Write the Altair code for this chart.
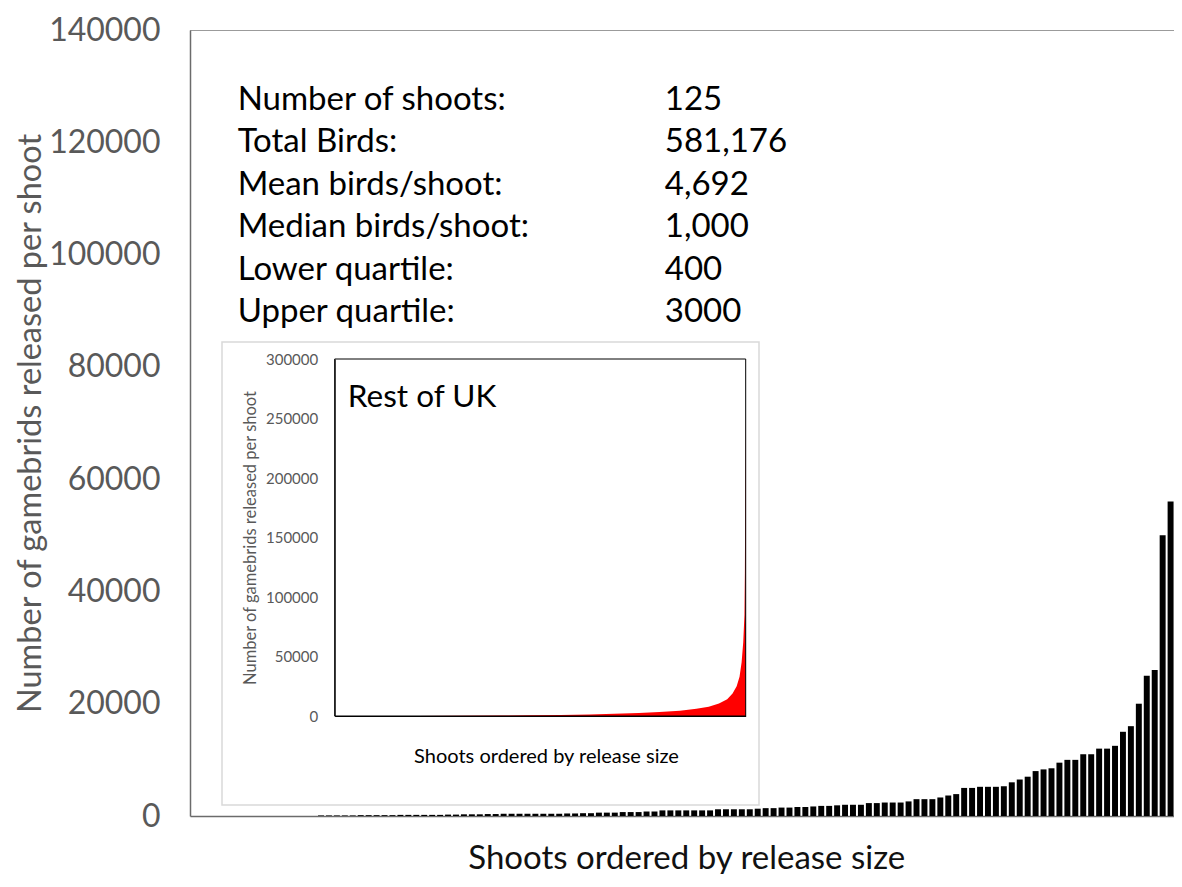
import altair as alt
import pandas as pd

# ---------------- data ----------------
# 125 shoots ordered by release size; the largest one lies just beyond the cropped right edge
release_size = [
    0, 0, 0, 0, 0, 0, 0, 0, 0, 0, 0, 0, 0, 0, 0, 0,
    100, 100, 100, 100, 100, 150, 150, 150, 150, 150, 200, 200, 200, 200, 200, 200, 250, 250,
    300, 300, 300, 350, 350, 400, 400, 400, 400, 400, 400, 400, 400, 450, 450,
    500, 500, 600, 600, 600, 700, 700, 700, 800, 800,
    1000, 1000, 1000, 1000, 1000, 1000, 1000,
    1200, 1200, 1200, 1200, 1200, 1300,
    1400, 1400, 1500, 1500,
    1600, 1600, 1700,
    1800, 1800, 1900, 2000, 2000, 2000,
    2300, 2300, 2400, 2400,
    2400, 2600, 3000, 3000, 3000, 3300, 3650, 3900, 5000, 5000,
    5200, 5200, 5200, 5300, 6000, 6500, 7000, 8000, 8300, 8500,
    9500, 10000, 10000, 11000, 11000, 12000, 12000, 12500, 15000, 16000,
    20000, 25000, 26000, 50000, 56000,
    124000,
]
assert len(release_size) == 125

y_ticks = [0, 20000, 40000, 60000, 80000, 100000, 120000, 140000]

stat_labels = ["Number of shoots:", "Total Birds:", "Mean birds/shoot:",
               "Median birds/shoot:", "Lower quartile:", "Upper quartile:"]
stat_values = ["125", "581,176", "4,692", "1,000", "400", "3000"]

# inset "Rest of UK": shoot rank (0-1000, unlabelled axis) and birds released
inset_rank = [0, 100, 200, 300, 400, 470, 550, 620, 680, 740, 790, 840, 880, 910,
              935, 955, 968, 978, 985, 990, 994, 997, 998, 999, 1000]
inset_value = [0, 50, 100, 200, 350, 600, 900, 1300, 1800, 2500, 3300, 4500, 6000, 7800,
               10500, 14000, 19000, 25000, 33000, 45000, 62000, 85000, 120000, 200000, 256000]
inset_ticks = [0, 50000, 100000, 150000, 200000, 250000, 300000]

# ---------------- tables ----------------
main_df = pd.DataFrame({"shoot": list(range(len(release_size))), "birds": release_size})
frame_df = pd.DataFrame({"a": [0], "b": [len(release_size)], "top": [max(y_ticks)]})
stats_df = pd.DataFrame({"label": stat_labels, "value": stat_values,
                         "row": list(range(len(stat_labels)))})
inset_df = pd.DataFrame({"rank": inset_rank, "birds": inset_value})
inset_frame_df = pd.DataFrame({"x0": [0], "x1": [1000], "y0": [0], "y1": [max(inset_ticks)]})
inset_title_df = pd.DataFrame({"x": [32], "y": [267000], "t": ["Rest of UK"]})

FONT = "Lato"
GREY = "#595959"
W, H = 984, 786           # plot area; the original (wider) chart is cropped by the window
SLOT = 7.94               # px per shoot
XMAX = W / SLOT
N = len(release_size)

XM = alt.Scale(domain=[0, XMAX], nice=False, zero=False)
YM = alt.Scale(domain=[0, max(y_ticks)], nice=False)

# ---------------- main chart ----------------
bars = alt.Chart(main_df).mark_rect(color="black", clip=True).transform_calculate(
    x0="datum.shoot + 0.125", x1="datum.shoot + 0.875", base="0"
).encode(
    x=alt.X("x0:Q", scale=XM, axis=alt.Axis(
        orient="bottom", labels=False, ticks=False, grid=False,
        domainColor="#6b6b6b", domainWidth=1.5,
        title="Shoots ordered by release size", titleFont=FONT, titleFontSize=33,
        titleFontWeight="normal", titleColor="#111111",
        titleX=N * SLOT / 2, titleY=42, titleAlign="center", titleBaseline="middle")),
    x2="x1:Q",
    y=alt.Y("birds:Q", scale=YM, axis=alt.Axis(
        values=y_ticks, format="d", labelFont=FONT, labelFontSize=32, labelColor=GREY,
        ticks=False, labelPadding=30, grid=False,
        domainColor="#6b6b6b", domainWidth=1.5,
        title="Number of gamebrids released per shoot", titleFont=FONT, titleFontSize=32.5,
        titleFontWeight="normal", titleColor=GREY, titleAngle=270,
        titleX=-160, titleY=H / 2, titleAlign="center", titleBaseline="middle")),
    y2="base:Q",
)

top_line = alt.Chart(frame_df).mark_rule(color="#7a7a7a", strokeWidth=1.5, clip=True).encode(
    x=alt.X("a:Q", scale=XM, axis=None), x2="b:Q",
    y=alt.Y("top:Q", scale=YM, axis=None),
)

stat_base = alt.Chart(stats_df).transform_calculate(
    ty="127600 - datum.row * 7580", lx="6.0", vx="59.8"
)
stat_lab = stat_base.mark_text(align="left", baseline="middle", font=FONT,
                               fontSize=33, color="black").encode(
    x=alt.X("lx:Q", scale=XM, axis=None), y=alt.Y("ty:Q", scale=YM, axis=None),
    text="label:N")
stat_val = stat_base.mark_text(align="left", baseline="middle", font=FONT,
                               fontSize=33, color="black").encode(
    x=alt.X("vx:Q", scale=XM, axis=None), y=alt.Y("ty:Q", scale=YM, axis=None),
    text="value:N")

# ---------------- inset chart ----------------
XI = alt.Scale(domain=[0, 1000], range=[144.7, 555.7], nice=False, zero=False)
YI = alt.Scale(domain=[0, max(inset_ticks)], range=[686, 329], nice=False)

card = alt.Chart(pd.DataFrame({"k": [0]})).mark_rect(
    fill="white", stroke="#d9d9d9", strokeWidth=1.5
).encode(x=alt.value(32), x2=alt.value(569), y=alt.value(312), y2=alt.value(775))

area = alt.Chart(inset_df).mark_area(color="#ff0000", interpolate="linear").encode(
    x=alt.X("rank:Q", scale=XI, axis=alt.Axis(
        orient="bottom", offset=-(H - 686), labels=False, ticks=False, grid=False,
        domainColor="black", domainWidth=1, zindex=2,
        title="Shoots ordered by release size", titleFont=FONT, titleFontSize=20,
        titleFontWeight="normal", titleColor="black",
        titleX=356, titleY=40, titleAlign="center", titleBaseline="middle")),
    y=alt.Y("birds:Q", scale=YI, axis=alt.Axis(
        orient="left", offset=-144.7, values=inset_ticks, format="d",
        labelFont=FONT, labelFontSize=15, labelColor=GREY, ticks=False,
        labelPadding=17, grid=False, domainColor="black", domainWidth=1, zindex=2,
        title="Number of gamebrids released per shoot", titleFont=FONT, titleFontSize=16.5,
        titleFontWeight="normal", titleColor=GREY, titleAngle=270,
        titleX=-84, titleY=(329 + 686) / 2, titleAlign="center", titleBaseline="middle")),
)

inset_frame = alt.Chart(inset_frame_df).mark_rect(
    fill="white", fillOpacity=0, stroke="black", strokeWidth=1
).encode(
    x=alt.X("x0:Q", scale=XI, axis=None), x2="x1:Q",
    y=alt.Y("y0:Q", scale=YI, axis=None), y2="y1:Q",
)

inset_title = alt.Chart(inset_title_df).mark_text(
    align="left", baseline="middle", font=FONT, fontSize=31.5, color="black"
).encode(
    x=alt.X("x:Q", scale=XI, axis=None), y=alt.Y("y:Q", scale=YI, axis=None), text="t:N"
)

chart = alt.layer(
    bars, top_line, card, area, inset_frame, inset_title, stat_lab, stat_val
).resolve_scale(
    x="independent", y="independent"
).properties(
    width=W, height=H,
    autosize=alt.AutoSizeParams(type="none"),
    padding={"left": 182, "top": 22, "right": 0, "bottom": 58},
    background="white",
).configure_view(strokeWidth=0)

chart.save("out.html", embed_options={"renderer": "svg", "actions": False})
